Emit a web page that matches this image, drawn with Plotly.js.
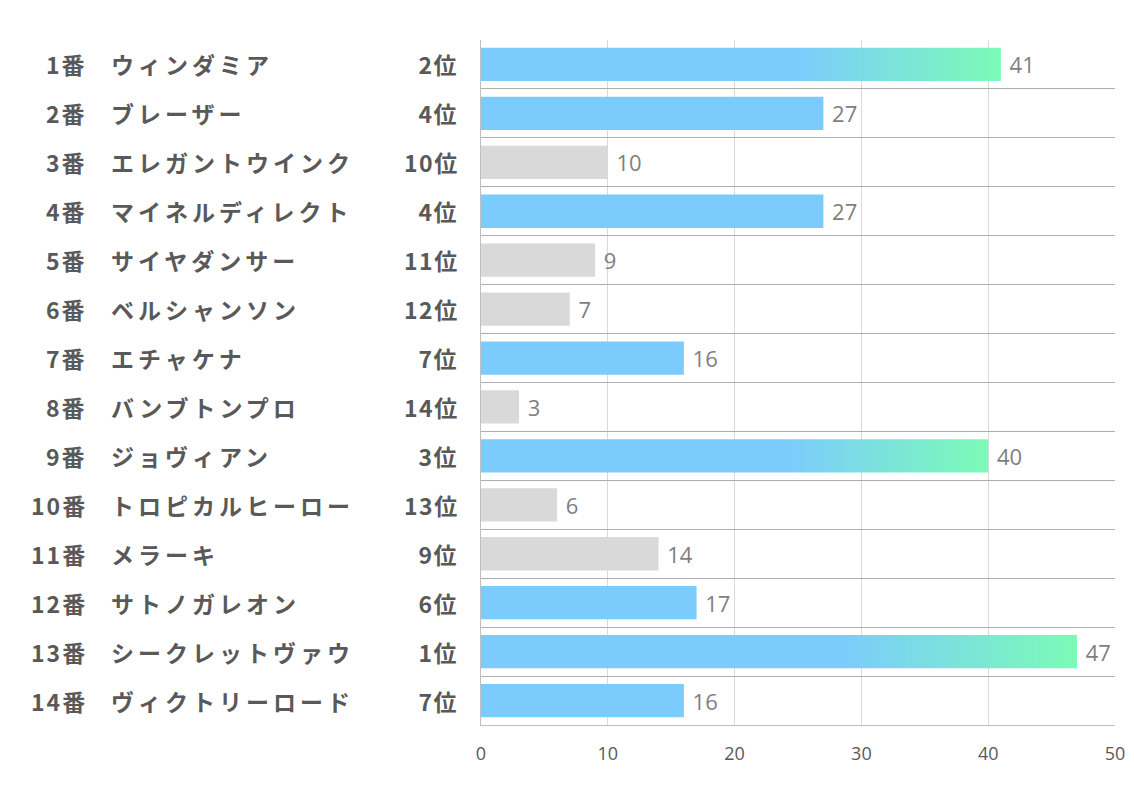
<!DOCTYPE html>
<html><head><meta charset="utf-8">
<script src="https://cdn.plot.ly/plotly-3.0.1.min.js"></script>
<style>body{margin:0;background:#fff}#chart{width:1134px;height:793px}</style>
</head><body><div id="chart"></div>
<script>
const nums = ["1番","2番","3番","4番","5番","6番","7番","8番","9番","10番","11番","12番","13番","14番"];
const names = ["ウィンダミア","ブレーザー","エレガントウインク","マイネルディレクト","サイヤダンサー","ベルシャンソン","エチャケナ","バンブトンプロ","ジョヴィアン","トロピカルヒーロー","メラーキ","サトノガレオン","シークレットヴァウ","ヴィクトリーロード"];
const ranks = [2,4,10,4,11,12,7,14,3,13,9,6,1,7];
const values = [41,27,10,27,9,7,16,3,40,6,14,17,47,16];

const BLUE = "#7BCBFD", GRAY = "#D9D9D9";
const idx = values.map((v,i)=>i);
const colors = ranks.map(r => r <= 7 ? BLUE : GRAY);

const labelFont = {family:"Noto Sans CJK JP, sans-serif", size:23, color:"#595959", weight:"bold"};
const annotations = [];
idx.forEach(i=>{
  annotations.push({xref:"paper", yref:"y", x:-0.6215, y:i, text:nums[i], showarrow:false, xanchor:"right", yanchor:"middle", font:labelFont});
  annotations.push({xref:"paper", yref:"y", x:-0.5868, y:i, text:names[i], showarrow:false, xanchor:"left", yanchor:"middle", font:labelFont});
  annotations.push({xref:"paper", yref:"y", x:-0.0347, y:i, text:ranks[i]+"位", showarrow:false, xanchor:"right", yanchor:"middle", font:labelFont});
});

const trace = {
  type:"bar", orientation:"h", x:values, y:idx, width:0.68,
  marker:{color:colors, line:{width:0}},
  text:values.map(v=>" "+v), textposition:"outside", cliponaxis:false,
  textfont:{family:"Open Sans, sans-serif", size:22, color:"#7F7F7F"},
  hoverinfo:"none"
};
const layout = {
  width:1134, height:793,
  margin:{l:481, r:19, t:40, b:68},
  paper_bgcolor:"#fff", plot_bgcolor:"#fff",
  showlegend:false,
  xaxis:{range:[0,50], dtick:10, tick0:0, showgrid:true, gridcolor:"#D9D9D9", gridwidth:1,
         zeroline:false, showline:true, linecolor:"#BFBFBF", linewidth:1, mirror:false,
         ticks:"", ticklabelstandoff:12,
         tickfont:{family:"Open Sans, sans-serif", size:18, color:"#595959"}, fixedrange:true},
  yaxis:{range:[13.5,-0.5], tick0:-0.5, dtick:1, showgrid:true, gridcolor:"#ADADAD", gridwidth:1,
         zeroline:false, showticklabels:false, showline:true, linecolor:"#BFBFBF", ticks:"", fixedrange:true},
  annotations:annotations,
  bargap:0.32
};
Plotly.newPlot("chart",[trace],layout,{staticPlot:true}).then(gd=>{
  const svg = gd.querySelector("svg.main-svg");
  const ns = "http://www.w3.org/2000/svg";
  let defs = svg.querySelector("defs");
  if(!defs){defs=document.createElementNS(ns,"defs");svg.insertBefore(defs,svg.firstChild);}
  const g = document.createElementNS(ns,"linearGradient");
  g.setAttribute("id","topgrad"); g.setAttribute("x1","0"); g.setAttribute("x2","1"); g.setAttribute("y1","0"); g.setAttribute("y2","0");
  [["0",BLUE],["0.6",BLUE],["1","#7BFBB6"]].forEach(([o,c])=>{
    const s=document.createElementNS(ns,"stop"); s.setAttribute("offset",o); s.setAttribute("stop-color",c); g.appendChild(s);
  });
  defs.appendChild(g);
  const paths = gd.querySelectorAll(".barlayer .point path");
  paths.forEach((p,i)=>{ if(ranks[i] <= 3) p.style.fill = "url(#topgrad)"; });

  // widen label spacing while keeping anchored edges in place
  const spacing = [2, 4, 1.5];
  gd.querySelectorAll("g.annotation").forEach(a=>{
    const k = +a.getAttribute("data-index");
    const t = a.querySelector("text.annotation-text");
    if(!t) return;
    const col = k % 3;
    const b0 = t.getBBox();
    t.style.letterSpacing = spacing[col] + "px";
    const b1 = t.getBBox();
    let dx;
    if(col === 1) dx = b0.x - b1.x;
    else dx = (b0.x + b0.width) - (b1.x + b1.width - spacing[col]);
    t.setAttribute("transform", "translate(" + dx + ",0)");
  });
});
</script></body></html>
